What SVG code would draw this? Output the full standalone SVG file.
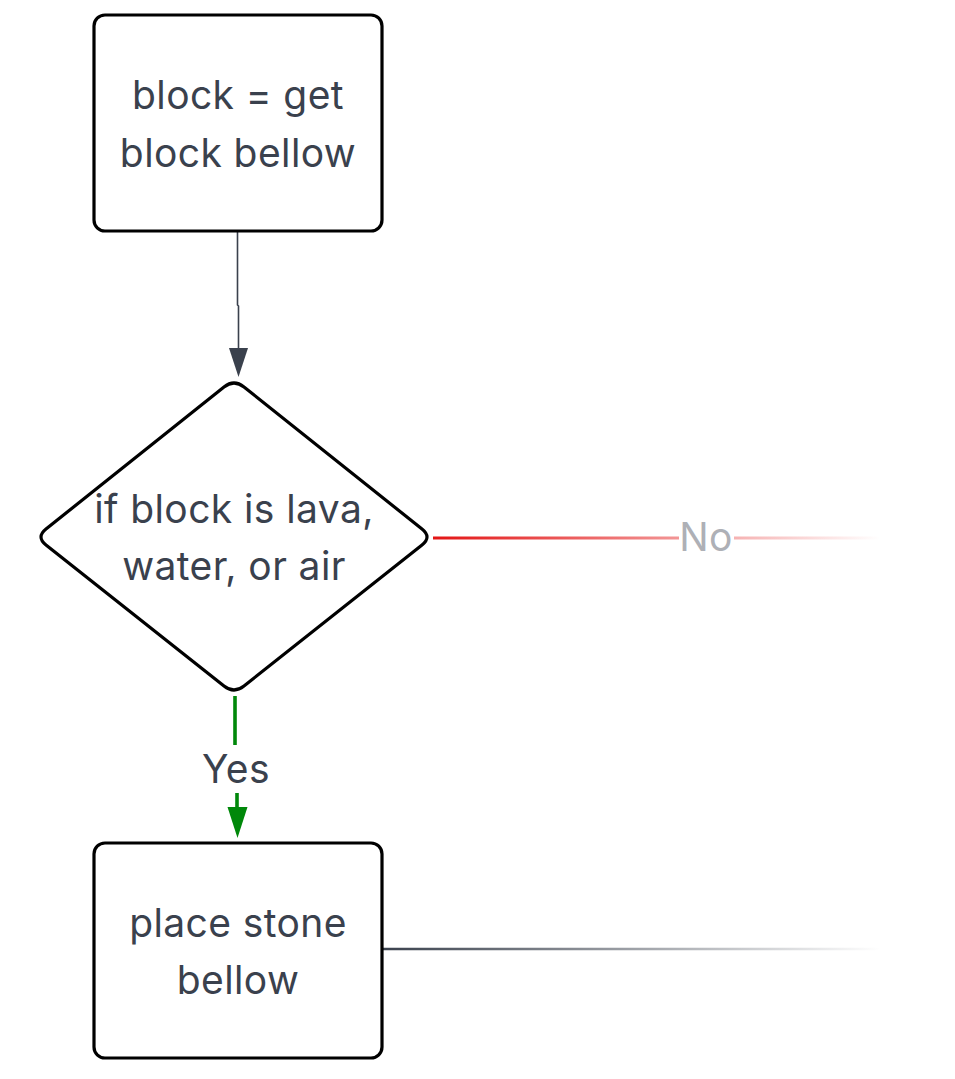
<svg xmlns="http://www.w3.org/2000/svg" width="955" height="1079" viewBox="0 0 955 1079">
<style>
.node{fill:#fff;stroke:#000;stroke-width:3.2}
.t{font-family:Inter,"Noto Sans",sans-serif;font-size:39px;letter-spacing:0.4px;fill:#3a414d;text-anchor:middle}
</style>
<defs>
<linearGradient id="gNo" gradientUnits="userSpaceOnUse" x1="432" y1="0" x2="880" y2="0">
<stop offset="0" stop-color="#e31414"/>
<stop offset="1" stop-color="#e31414" stop-opacity="0"/>
</linearGradient>
<linearGradient id="gOut" gradientUnits="userSpaceOnUse" x1="382" y1="0" x2="880" y2="0">
<stop offset="0" stop-color="#3a414d"/>
<stop offset="1" stop-color="#3a414d" stop-opacity="0"/>
</linearGradient>
</defs>
<g id="connectors">
<path d="M237.5,232 L237.5,305 L238.5,306 L238.5,350" fill="none" stroke="#3a414d" stroke-width="1.6"/>
<path d="M229,348 L248,348 L238.5,377 Z" fill="#3a414d"/>
<path d="M433,538 L880,538" fill="none" stroke="url(#gNo)" stroke-width="3"/>
<rect x="679" y="518" width="55" height="40" fill="#fff"/>
<text class="t" x="706" y="551" style="fill:#aeb0b6">No</text>
<path d="M235,696 L235,745" stroke="#00880a" stroke-width="3.6" fill="none"/>
<text class="t" x="236" y="783">Yes</text>
<path d="M237,793 L237,810" stroke="#00880a" stroke-width="3.6" fill="none"/>
<path d="M227.5,807 L247.5,807 L237.5,838 Z" fill="#00880a"/>
<path d="M383,949 L880,949" fill="none" stroke="url(#gOut)" stroke-width="2.4"/>
</g>
<g id="node-get-block">
<rect class="node" x="94" y="15" width="288" height="216" rx="11"/>
<text class="t" x="238" y="109">block = get</text>
<text class="t" x="238" y="167">block bellow</text>
</g>
<g id="node-decision">
<path class="node" d="M224,387 Q234,379 244,387 L422,529 Q432,537 422,545 L244,686 Q234,694 224,686 L46,545 Q36,537 46,529 Z"/>
<text class="t" x="234" y="523">if block is lava,</text>
<text class="t" x="234" y="580">water, or air</text>
</g>
<g id="node-place-stone">
<rect class="node" x="94" y="843" width="288" height="215" rx="11"/>
<text class="t" x="238" y="937">place stone</text>
<text class="t" x="238" y="994">bellow</text>
</g>
</svg>
